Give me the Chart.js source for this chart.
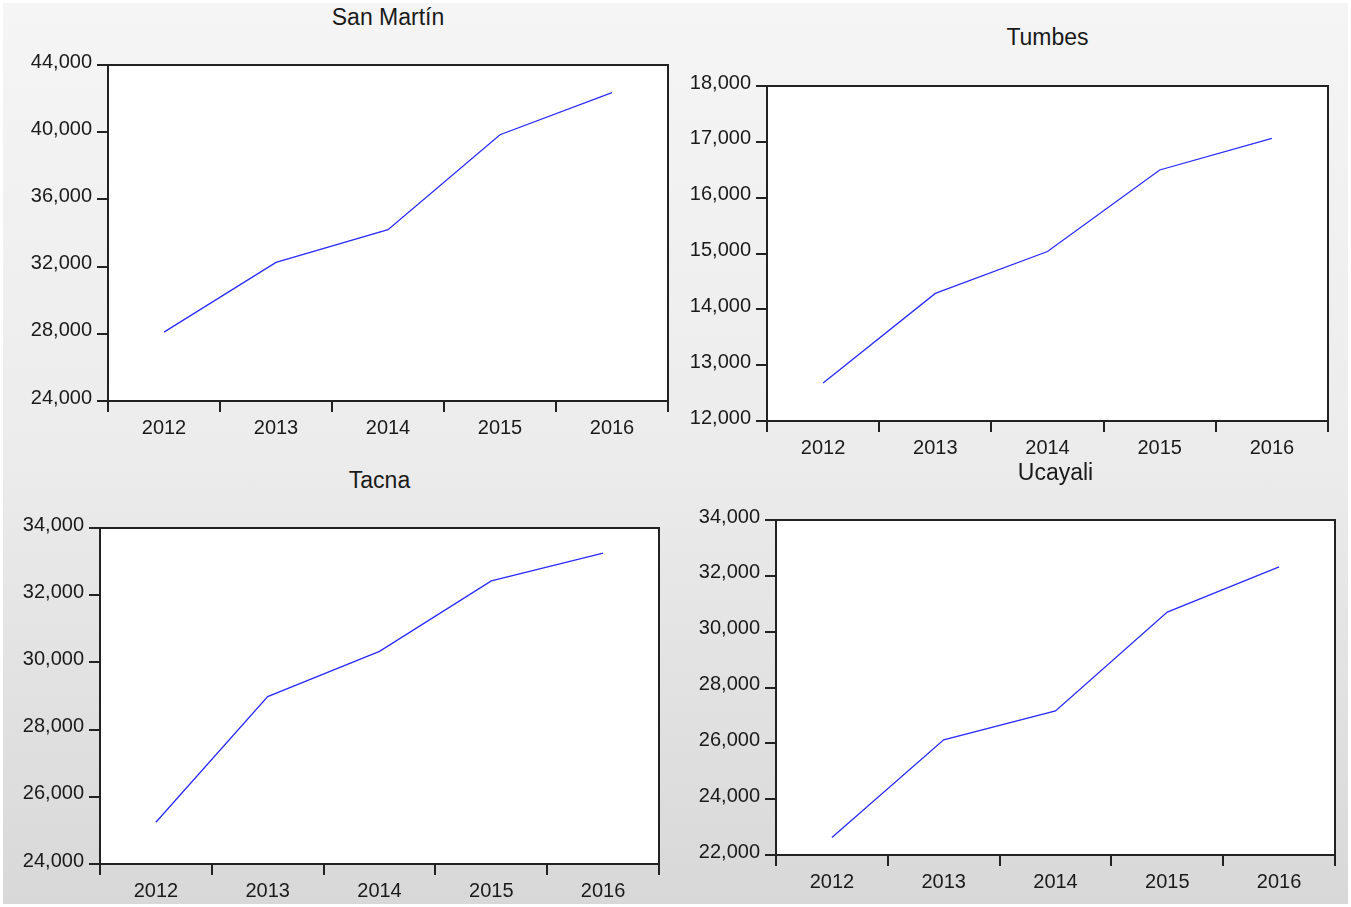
<!DOCTYPE html>
<html>
<head>
<meta charset="utf-8">
<script src="https://cdn.jsdelivr.net/npm/chart.js@4.4.0/dist/chart.umd.min.js"></script>
<style>
  html, body { margin: 0; padding: 0; background: #fff; }
  #frame {
    position: absolute; left: 3px; top: 3px; width: 1345px; height: 901px;
    background: linear-gradient(#f5f5f5 0%, #ececec 50%, #d8d8d8 100%);
  }
  canvas { position: absolute; }
  .title {
    position: absolute; font-family: "Liberation Sans", Arial, sans-serif;
    font-size: 23px; color: #1a1a1a; transform: translate(-50%, -50%); white-space: nowrap;
  }
</style>
</head>
<body>
<div id="frame"></div>

<script>
// data
const years = ['2012', '2013', '2014', '2015', '2016'];
const sanMartin = [28100, 32250, 34200, 39850, 42350];
const tumbes = [12680, 14285, 15035, 16496, 17062];
const tacna = [25244, 28984, 30330, 32424, 33252];
const ucayali = [22623, 26128, 27160, 30700, 32320];

// plot boxes (page pixels) and y ranges for each panel
const panels = [
    { title: 'San Martín', values: sanMartin, min: 24000, max: 44000, step: 4000, box: [108, 65, 668, 401], titleY: 17 },
    { title: 'Tumbes', values: tumbes, min: 12000, max: 18000, step: 1000, box: [767, 86, 1328, 421], titleY: 37 },
    { title: 'Tacna', values: tacna, min: 24000, max: 34000, step: 2000, box: [100, 528, 659, 864], titleY: 480 },
    { title: 'Ucayali', values: ucayali, min: 22000, max: 34000, step: 2000, box: [776, 520, 1335, 855], titleY: 472 }
];

const Y_W = 100, X_H = 50, PAD = 20;

// white plot area with a dark frame
const framePlugin = {
    id: 'framePlugin',
    beforeDraw(chart) {
        const a = chart.chartArea, ctx = chart.ctx;
        ctx.save();
        ctx.fillStyle = '#ffffff';
        ctx.fillRect(a.left, a.top, a.right - a.left, a.bottom - a.top);
        ctx.restore();
    },
    afterDraw(chart) {
        const a = chart.chartArea, ctx = chart.ctx;
        ctx.save();
        ctx.strokeStyle = '#222';
        ctx.lineWidth = 2;
        ctx.strokeRect(a.left, a.top, a.right - a.left, a.bottom - a.top);
        ctx.restore();
    }
};

panels.forEach(p => {
    const [l, t, r, b] = p.box;
    const canvas = document.createElement('canvas');
    canvas.width = (r - l) + Y_W + PAD;
    canvas.height = (b - t) + PAD + X_H;
    canvas.style.left = (l - Y_W) + 'px';
    canvas.style.top = (t - PAD) + 'px';
    document.body.appendChild(canvas);

    const title = document.createElement('div');
    title.className = 'title';
    title.textContent = p.title;
    title.style.left = ((l + r) / 2) + 'px';
    title.style.top = p.titleY + 'px';
    document.body.appendChild(title);

    new Chart(canvas.getContext('2d'), {
        type: 'line',
        data: {
            labels: years,
            datasets: [{
                data: p.values,
                borderColor: '#2b2bff',
                borderWidth: 1.3,
                pointRadius: 0,
                fill: false,
                tension: 0
            }]
        },
        options: {
            responsive: false,
            animation: false,
            layout: { padding: { top: PAD, right: PAD, left: 0, bottom: 0 } },
            plugins: { legend: { display: false }, tooltip: { enabled: false } },
            scales: {
                x: {
                    offset: true,
                    grid: { offset: true, drawOnChartArea: false, drawTicks: true, tickLength: 11, lineWidth: 2, color: '#222' },
                    border: { display: false },
                    ticks: { color: '#1a1a1a', padding: 4, maxRotation: 0, font: { family: 'Liberation Sans', size: 20 } },
                    afterFit(scale) { scale.height = X_H; }
                },
                y: {
                    min: p.min,
                    max: p.max,
                    grid: { drawOnChartArea: false, drawTicks: true, tickLength: 11, lineWidth: 2, color: '#222' },
                    border: { display: false },
                    ticks: {
                        stepSize: p.step,
                        color: '#1a1a1a',
                        padding: 5,
                        labelOffset: -3,
                        font: { family: 'Liberation Sans', size: 20 },
                        callback: v => v.toLocaleString('en-US')
                    },
                    afterFit(scale) { scale.width = Y_W; }
                }
            }
        },
        plugins: [framePlugin]
    });
});
</script>
</body>
</html>
